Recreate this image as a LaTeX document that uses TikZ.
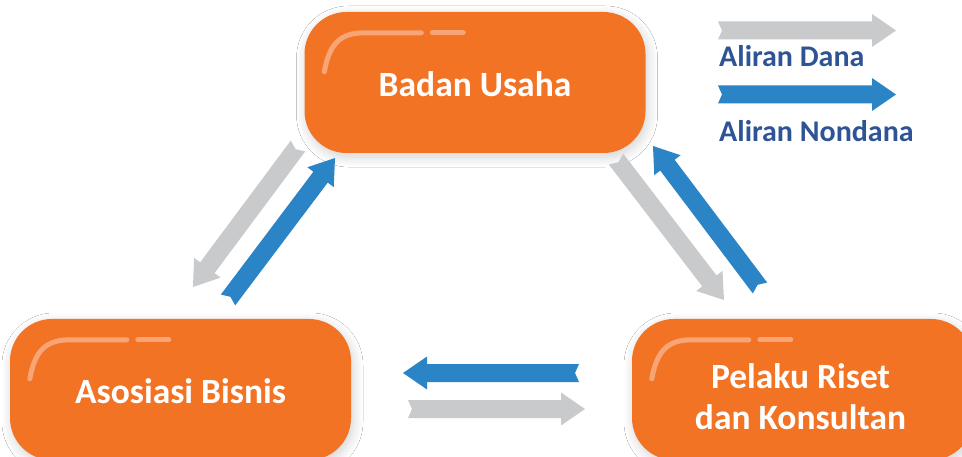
\documentclass[tikz,border=0pt]{standalone}
\usepackage{fontspec}
\setmainfont{Carlito}
\usetikzlibrary{calc,shadows.blur}
\definecolor{borange}{RGB}{243,115,36}
\definecolor{shine}{RGB}{248,165,118}
\definecolor{fgray}{RGB}{201,202,204}
\definecolor{fblue}{RGB}{42,132,198}
\definecolor{lblue}{RGB}{46,84,150}
% fat arrow with notched tail: #1 from, #2 to, #3 colour
\newcommand\fatarr[3]{%
  \coordinate (hb) at ($(#2)!24pt!(#1)$);
  \fill[#3] ($(#1)!9pt!90:(#2)$) -- ($(hb)!9pt!90:(#2)$) -- ($(hb)!16.5pt!90:(#2)$)
    -- (#2) -- ($(hb)!16.5pt!-90:(#2)$) -- ($(hb)!9pt!-90:(#2)$)
    -- ($(#1)!9pt!-90:(#2)$) -- ($(#1)!4pt!(#2)$) -- cycle;
}
% glossy highlight on a box
\newcommand\boxshine[1]{%
  \draw[shineline] ($(#1.north west)+(20,60)$) .. controls ($(#1.north west)+(25,32)$) and ($(#1.north west)+(36,21)$) .. ($(#1.north west)+(60,21)$) -- ($(#1.north west)+(117,21)$);
  \draw[shineline] ($(#1.north west)+(128,21)$) -- ($(#1.north west)+(159,21)$);
}
\begin{document}
\begin{tikzpicture}[x=1pt,y=-1pt,
  obox/.style={fill=borange, rounded corners=42pt, minimum width=341pt, minimum height=141pt,
    blur shadow={shadow xshift=2pt, shadow yshift=-4pt, shadow blur radius=10pt, shadow blur steps=12, shadow opacity=18}},
  boxtext/.style={text=white, font=\bfseries\fontsize{35.5}{41}\selectfont, align=center, inner sep=0pt},
  shineline/.style={shine, line width=5pt, line cap=round},
  legendtext/.style={text=lblue, font=\bfseries\fontsize{30}{34}\selectfont, anchor=base west, inner sep=0pt}]
\clip (0,0) rectangle (962,457);
\fill[white] (0,0) rectangle (962,457);

% boxes
\node[obox] (ba) at (475,82.5) {};
\node[obox] (ab) at (180.5,389.5) {};
\node[obox] (pr) at (802.5,389.5) {};
\node[boxtext] (bat) at ($(ba.center)+(0,2)$) {Badan Usaha};
\node[boxtext] (abt) at ($(ab.center)+(0,2)$) {Asosiasi Bisnis};
\node[boxtext] (prt) at ($(pr.center)+(-2,7)$) {Pelaku Riset\\dan Konsultan};
\boxshine{ba}
\boxshine{ab}
\boxshine{pr}

% arrow end points
\coordinate (lg1) at (718,30.5);  \coordinate (lg2) at (896,30.5);
\coordinate (lb1) at (718,94.5);  \coordinate (lb2) at (896,94.5);
\coordinate (hb1) at (579,373);   \coordinate (hb2) at (403,373);
\coordinate (hg1) at (408,409);   \coordinate (hg2) at (585,409);
\coordinate (lgA) at (298,146);   \coordinate (lgB) at (193,287);
\coordinate (lbA) at (228,300);   \coordinate (lbB) at (335,158);
\coordinate (rgA) at (616,159);   \coordinate (rgB) at (724,300);
\coordinate (rbA) at (760,288);   \coordinate (rbB) at (653,146);

\fatarr{lg1}{lg2}{fgray}
\fatarr{lb1}{lb2}{fblue}
\fatarr{hb1}{hb2}{fblue}
\fatarr{hg1}{hg2}{fgray}
\fatarr{lgA}{lgB}{fgray}
\fatarr{lbA}{lbB}{fblue}
\fatarr{rgA}{rgB}{fgray}
\fatarr{rbA}{rbB}{fblue}

% legend
\node[legendtext] (ld) at (719,67) {Aliran Dana};
\node[legendtext] (ln) at (719,142) {Aliran Nondana};
\end{tikzpicture}
\end{document}
